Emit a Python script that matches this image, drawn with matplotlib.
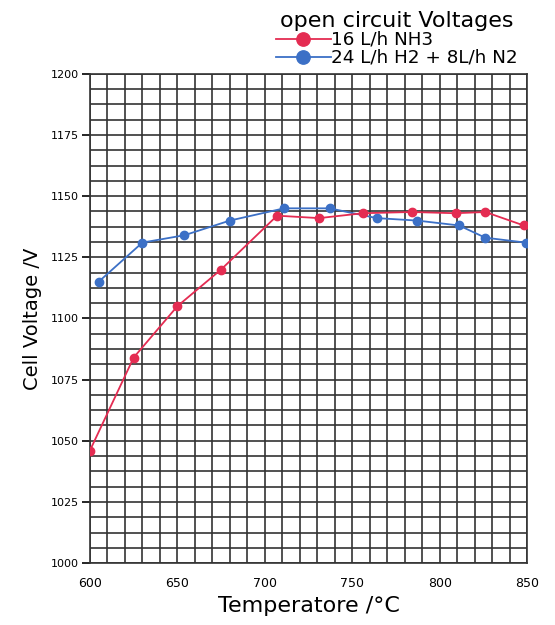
import numpy as np
import matplotlib.pyplot as plt
from matplotlib.ticker import MultipleLocator

# Datos
temp_nh3 = [600, 625, 650, 675, 707, 731, 756, 784, 809, 826, 848]
volt_nh3 = [1046, 1084, 1105, 1120, 1142, 1141, 1143, 1143.5, 1143, 1143.5, 1138]

temp_h2n2 = [605, 630, 654, 680, 711, 737, 764, 787, 811, 826, 849]
volt_h2n2 = [1115, 1131, 1134, 1140, 1145, 1145, 1141, 1140, 1138, 1133, 1131]

x_ticks = [600, 650, 700, 750, 800, 850]
y_ticks = [1000, 1025, 1050, 1075, 1100, 1125, 1150, 1175, 1200]

rojo = '#e42c52'
azul = '#3c70c6'

fig = plt.figure(figsize=(5.55, 6.25), dpi=100)
ax = fig.add_axes([0.162, 0.099, 0.788, 0.783])

ax.plot(temp_nh3, volt_nh3, '-o', color=rojo, lw=1.3, ms=6, label='16 L/h NH3', zorder=4)
ax.plot(temp_h2n2, volt_h2n2, '-o', color=azul, lw=1.3, ms=6,
        label='24 L/h H2 + 8L/h N2', zorder=3)

ax.set_xlim(600, 850)
ax.set_ylim(1000, 1200)
ax.set_xticks(x_ticks)
ax.set_yticks(y_ticks)
ax.xaxis.set_minor_locator(MultipleLocator(10))
ax.yaxis.set_minor_locator(MultipleLocator(6.25))
ax.grid(True, which='both', color='#333333', lw=1.2)
ax.set_axisbelow(True)
for s in ax.spines.values():
    s.set_color('#333333')
    s.set_linewidth(1.2)

ax.tick_params(axis='y', which='major', length=6, width=1.2, labelsize=8, pad=2)
ax.tick_params(axis='x', which='major', length=0, labelsize=9, pad=10)
ax.tick_params(which='minor', length=0)

ax.set_xlabel('Temperatore /°C', fontsize=16, labelpad=4)
ax.set_ylabel('Cell Voltage /V', fontsize=14, labelpad=6)

leg = fig.legend(loc='upper right', bbox_to_anchor=(0.952, 1.0),
                 title='open circuit Voltages', fontsize=13.2, title_fontsize=16,
                 frameon=False, handlelength=3.0, handletextpad=0.0,
                 borderpad=0.1, labelspacing=0.0, markerscale=1.6)

fig.savefig('out.png', dpi=100)
